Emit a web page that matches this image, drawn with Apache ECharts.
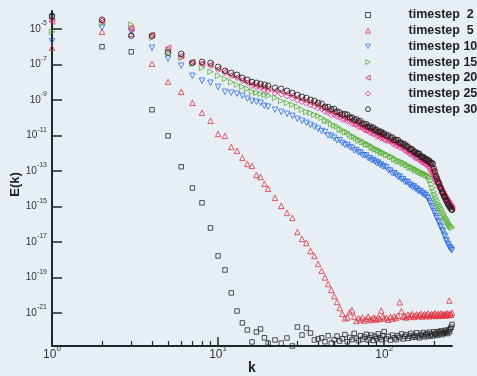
<!DOCTYPE html>
<html><head><meta charset="utf-8">
<script src="https://cdn.jsdelivr.net/npm/echarts@6/dist/echarts.min.js"></script>
<style>html,body{margin:0;padding:0;background:#e7eff4}#c{width:477px;height:376px}</style>
</head><body><div id="c"></div>
<script>
// wavenumbers k
const K = [1,2,3,4,5,6,7,8,9,10,11,12,13,14,15,16,17,18,19,20,
22,24,26,28,30,32,34,36,38,40,
42,44,46,48,50,52,54,56,58,60,62,64,66,68,70,72,74,76,78,80,82,84,86,88,90,92,94,96,98,100,
103,106,109,112,115,118,121,124,127,130,133,136,139,142,145,148,151,154,157,160,163,166,169,172,175,178,
181,184,187,190,193,196,199,202,205,208,211,214,217,220,223,226,229,232,235,238,241,244,247,250,253,256];

// log10 E(k), one array per timestep
const log10E_ts2 = [-4.32,-6.01,-6.30,-9.56,-11.03,-12.77,-13.96,-14.80,-16.21,-17.79,-18.58,-19.87,-20.89,-21.56,-21.96,-22.63,-22.07,-21.90,-22.40,-22.69,
-22.52,-22.70,-22.41,-22.86,-21.79,-22.24,-21.85,-22.13,-22.52,-22.46,
-22.40,-22.62,-22.28,-22.70,-22.51,-22.30,-22.58,-22.45,-22.22,-22.62,-22.38,-22.50,-22.15,-22.43,-22.56,-22.28,-22.48,-22.35,-22.20,-22.52,-22.40,-22.25,-22.55,-22.32,-22.45,-22.18,-22.38,-22.50,-22.28,-22.05,
-22.45,-22.32,-22.53,-22.25,-22.40,-22.50,-22.28,-22.38,-22.18,-22.46,-22.32,-22.22,-22.42,-22.30,-22.15,-22.38,-22.26,-22.35,-22.12,-22.30,-22.40,-22.20,-22.28,-22.10,-22.34,-22.22,
-22.16,-22.32,-22.08,-22.25,-22.18,-22.30,-22.06,-22.20,-22.14,-22.26,-22.05,-22.18,-22.12,-22.00,-22.22,-22.08,-22.15,-21.98,-22.10,-22.04,-22.16,-21.95,-22.06,-21.90,-21.80,-21.65];

const log10E_ts5 = [-6.07,-5.17,-5.28,-6.97,-7.99,-8.55,-9.17,-9.73,-10.18,-10.92,-11.03,-11.65,-11.87,-12.27,-12.61,-12.72,-13.23,-13.34,-13.73,-14.01,
-14.52,-14.97,-15.37,-15.65,-16.44,-16.83,-17.06,-17.51,-17.79,-18.24,
-18.62,-19.00,-19.37,-19.70,-20.05,-20.38,-20.72,-21.05,-21.30,-21.25,-20.95,-20.85,-21.20,-21.45,-21.30,-21.37,-21.25,-21.43,-21.33,-21.21,-21.35,-21.40,-21.27,-21.30,-21.37,-21.25,-21.33,-20.87,-21.20,-21.30,
-21.28,-21.38,-21.22,-21.32,-21.20,-21.28,-21.15,-20.40,-20.90,-21.22,-21.16,-21.25,-21.10,-21.20,-21.13,-21.06,-21.22,-21.15,-21.08,-21.18,-21.12,-21.04,-21.20,-21.13,-21.07,-21.17,
-21.10,-21.02,-21.19,-21.11,-21.06,-21.15,-21.08,-21.01,-21.17,-21.10,-21.04,-21.16,-21.09,-21.03,-21.15,-21.08,-21.12,-21.05,-21.14,-21.07,-21.00,-21.12,-20.30,-21.06,-21.10,-20.98];

const log10E_ts10 = [-5.70,-4.94,-5.17,-6.07,-6.69,-7.08,-7.65,-7.93,-8.04,-8.27,-8.55,-8.60,-8.66,-8.77,-8.94,-9.06,-9.11,-9.17,-9.34,-9.39,
-9.56,-9.68,-9.79,-9.90,-10.07,-10.18,-10.30,-10.41,-10.52,-10.63,
-10.76,-10.81,-11.01,-11.03,-11.14,-11.28,-11.28,-11.44,-11.53,-11.54,-11.66,-11.71,-11.85,-11.83,-11.96,-11.97,-12.11,-12.12,-12.14,-12.28,-12.29,-12.41,-12.38,-12.48,-12.56,-12.53,-12.65,-12.65,-12.76,-12.75,
-12.81,-12.96,-12.99,-13.14,-13.13,-13.22,-13.34,-13.32,-13.46,-13.47,-13.62,-13.61,-13.65,-13.78,-13.80,-13.91,-13.87,-14.00,-14.00,-14.13,-14.12,-14.15,-14.27,-14.27,-14.37,-14.35,
-14.48,-14.56,-14.71,-14.81,-14.99,-15.09,-15.27,-15.37,-15.56,-15.66,-15.84,-15.91,-16.09,-16.16,-16.34,-16.42,-16.60,-16.70,-16.88,-16.95,-17.10,-17.18,-17.30,-17.35,-17.44,-17.45];

const log10E_ts15 = [-5.17,-4.72,-4.77,-5.50,-6.30,-6.63,-6.97,-7.20,-7.42,-7.65,-7.82,-8.00,-8.15,-8.27,-8.38,-8.55,-8.60,-8.66,-8.72,-8.77,
-8.89,-9.06,-9.17,-9.28,-9.39,-9.56,-9.68,-9.73,-9.85,-9.90,
-10.01,-10.19,-10.20,-10.37,-10.45,-10.50,-10.68,-10.70,-10.83,-10.83,-10.97,-11.07,-11.08,-11.17,-11.30,-11.27,-11.39,-11.40,-11.53,-11.52,-11.55,-11.68,-11.70,-11.80,-11.76,-11.87,-11.86,-11.98,-11.97,-12.00,
-12.12,-12.11,-12.22,-12.21,-12.36,-12.35,-12.47,-12.44,-12.51,-12.60,-12.57,-12.69,-12.67,-12.81,-12.78,-12.85,-12.86,-12.97,-12.92,-13.03,-13.03,-13.12,-13.09,-13.18,-13.14,-13.26,
-13.24,-13.31,-13.38,-13.55,-13.75,-13.96,-14.18,-14.35,-14.52,-14.66,-14.83,-14.94,-15.03,-15.14,-15.25,-15.37,-15.48,-15.59,-15.68,-15.76,-15.87,-15.96,-16.04,-16.10,-16.15,-16.21];

const log10E_ts20 = [-4.60,-4.60,-5.00,-5.34,-6.07,-6.52,-6.86,-6.97,-7.03,-7.25,-7.42,-7.60,-7.72,-7.88,-8.00,-8.12,-8.18,-8.24,-8.30,-8.36,
-8.47,-8.54,-8.64,-8.76,-8.87,-8.98,-9.05,-9.15,-9.22,-9.32,
-9.43,-9.45,-9.62,-9.64,-9.69,-9.83,-9.81,-9.93,-10.01,-10.02,-10.05,-10.22,-10.20,-10.29,-10.30,-10.43,-10.51,-10.48,-10.55,-10.64,-10.61,-10.76,-10.74,-10.84,-10.82,-10.90,-11.00,-10.96,-11.05,-11.06,
-11.10,-11.24,-11.23,-11.36,-11.33,-11.41,-11.51,-11.48,-11.60,-11.60,-11.73,-11.73,-11.82,-11.82,-11.96,-11.97,-12.09,-12.05,-12.17,-12.17,-12.24,-12.34,-12.30,-12.42,-12.41,-12.54,
-12.52,-12.54,-12.66,-12.72,-12.85,-13.00,-13.15,-13.30,-13.45,-13.58,-13.70,-13.82,-13.95,-14.06,-14.18,-14.30,-14.40,-14.50,-14.58,-14.66,-14.74,-14.82,-14.90,-14.98,-15.05,-15.12];

const log10E_ts25 = [-4.49,-4.55,-4.94,-5.45,-6.18,-6.58,-6.92,-6.97,-7.08,-7.31,-7.48,-7.65,-7.76,-7.93,-8.04,-8.21,-8.27,-8.32,-8.44,-8.49,
-8.62,-8.70,-8.80,-8.92,-9.03,-9.12,-9.20,-9.30,-9.37,-9.47,
-9.51,-9.67,-9.71,-9.86,-9.83,-9.95,-9.98,-10.12,-10.11,-10.21,-10.19,-10.35,-10.37,-10.40,-10.54,-10.53,-10.57,-10.69,-10.72,-10.72,-10.86,-10.85,-10.93,-10.92,-11.07,-11.02,-11.09,-11.17,-11.13,-11.24,
-11.30,-11.30,-11.33,-11.46,-11.49,-11.60,-11.57,-11.69,-11.69,-11.70,-11.86,-11.89,-11.91,-12.05,-12.04,-12.08,-12.19,-12.28,-12.25,-12.32,-12.41,-12.38,-12.52,-12.51,-12.57,-12.65,
-12.63,-12.73,-12.85,-12.96,-13.08,-13.20,-13.32,-13.45,-13.57,-13.68,-13.77,-13.85,-13.93,-14.00,-14.12,-14.25,-14.37,-14.50,-14.56,-14.62,-14.68,-14.75,-14.82,-14.90,-14.97,-15.05];

const log10E_ts30 = [-4.27,-4.49,-5.39,-5.39,-6.35,-6.41,-6.92,-6.86,-6.92,-7.14,-7.37,-7.48,-7.59,-7.76,-7.87,-7.99,-8.04,-8.10,-8.15,-8.21,
-8.32,-8.38,-8.49,-8.61,-8.72,-8.83,-8.89,-9.00,-9.06,-9.17,
-9.22,-9.39,-9.40,-9.53,-9.51,-9.66,-9.71,-9.83,-9.80,-9.84,-9.99,-10.00,-10.12,-10.09,-10.21,-10.19,-10.34,-10.36,-10.37,-10.53,-10.50,-10.58,-10.56,-10.70,-10.68,-10.80,-10.79,-10.80,-10.91,-10.90,
-11.01,-11.00,-11.12,-11.12,-11.27,-11.25,-11.27,-11.42,-11.42,-11.51,-11.49,-11.62,-11.63,-11.78,-11.76,-11.80,-11.92,-11.93,-12.05,-12.02,-12.04,-12.17,-12.24,-12.22,-12.28,-12.39,
-12.35,-12.45,-12.43,-12.55,-12.54,-12.61,-12.88,-13.04,-13.29,-13.43,-13.61,-13.71,-13.92,-14.02,-14.20,-14.28,-14.43,-14.50,-14.65,-14.73,-14.85,-14.90,-15.02,-15.05,-15.16,-15.20];

const seriesNames = ['timestep  2','timestep  5','timestep 10','timestep 15','timestep 20','timestep 25','timestep 30'];
const yTickValues = [1e-21,1e-19,1e-17,1e-15,1e-13,1e-11,1e-9,1e-7,1e-5];
const xMajorTicks = [1,10,100];
const xMinorTicks = [2,3,4,5,6,7,8,9,20,30,40,50,60,70,80,90,200];

const FONT = '"Liberation Sans", Arial, sans-serif';
const AXIS_COLOR = '#1d2828';

function pairs(logArr){ return K.map(function(k,i){ return [k, Math.pow(10, logArr[i])]; }); }
function powLabel(v){ const e = Math.round(Math.log10(v)); return '{b|10}{s|' + e + '}'; }

const styles = [
  {data: log10E_ts2,  symbol:'rect', size:4.5, color:'#262626'},
  {data: log10E_ts5,  symbol:'triangle', size:5.5, color:'#e0323e'},
  {data: log10E_ts10, symbol:'path://M0,0L10,0L5,9Z', size:5.5, color:'#2f6fe0'},
  {data: log10E_ts15, symbol:'path://M0,0L9,5L0,10Z', size:5.5, color:'#5caf3a'},
  {data: log10E_ts20, symbol:'path://M9,0L0,5L9,10Z', size:5.5, color:'#d42a46'},
  {data: log10E_ts25, symbol:'diamond', size:5.5, color:'#e6288a'},
  {data: log10E_ts30, symbol:'circle', size:5.5, color:'#161616'}
];

const chart = echarts.init(document.getElementById('c'), null, {renderer:'canvas'});
chart.setOption({
  animation: false,
  backgroundColor: '#e7eff4',
  grid: {left:52, right:25, top:11, bottom:30, containLabel:false, outerBoundsMode:'none'},
  legend: {
    orient:'vertical', left:365, top:8, padding:0, itemWidth:5, itemHeight:5, itemGap:1.7,
    selectedMode:false,
    itemStyle:{borderWidth:1},
    textStyle:{fontSize:12.5, fontWeight:'bold', color:'#222', fontFamily:FONT, lineHeight:14, padding:[0,0,0,33]},
    data: seriesNames
  },
  xAxis: [{
    type:'log', logBase:10, min:1, max:256, position:'bottom',
    name:'k', nameLocation:'middle', nameGap:15, nameMoveOverlap:false,
    nameTextStyle:{fontSize:14, fontWeight:'bold', color:'#222', fontFamily:FONT},
    axisLine:{show:true, lineStyle:{color:AXIS_COLOR, width:2}},
    axisTick:{show:true, inside:true, length:9, lineStyle:{color:AXIS_COLOR, width:1.5}, customValues:xMajorTicks},
    axisLabel:{show:true, margin:-1, customValues:xMajorTicks, formatter:powLabel,
      rich:{b:{fontSize:12, lineHeight:20, color:'#333', fontFamily:FONT}, s:{fontSize:8, lineHeight:9, verticalAlign:'top', color:'#333', fontFamily:FONT}}},
    splitLine:{show:false}
  },{
    type:'log', logBase:10, min:1, max:256, position:'bottom', gridIndex:0,
    axisLine:{show:false},
    axisTick:{show:true, inside:true, length:5, lineStyle:{color:AXIS_COLOR, width:1.2}, customValues:xMinorTicks},
    axisLabel:{show:false},
    splitLine:{show:false}
  }],
  yAxis: {
    type:'log', logBase:10, min:1.38e-23, max:1e-4,
    name:'E(k)', nameLocation:'middle', nameGap:30, nameMoveOverlap:false,
    nameTextStyle:{fontSize:13, fontWeight:'bold', color:'#222', fontFamily:FONT, padding:[0,12,0,0]},
    axisLine:{show:true, lineStyle:{color:AXIS_COLOR, width:2}},
    axisTick:{show:true, inside:true, length:10, lineStyle:{color:AXIS_COLOR, width:1.5}, customValues:yTickValues},
    axisLabel:{show:true, margin:5, customValues:yTickValues, formatter:powLabel,
      rich:{b:{fontSize:10, lineHeight:18, color:'#333', fontFamily:FONT}, s:{fontSize:7, lineHeight:8, verticalAlign:'top', color:'#333', fontFamily:FONT}}},
    splitLine:{show:false}
  },
  series: styles.map(function(s, i){
    return {
      name: seriesNames[i], type:'scatter', xAxisIndex:0, yAxisIndex:0,
      data: pairs(s.data), symbol: s.symbol, symbolSize: s.size,
      itemStyle:{color:'rgba(0,0,0,0)', borderColor:s.color, borderWidth:1},
      emphasis:{disabled:true}, silent:true
    };
  })
});
</script></body></html>
